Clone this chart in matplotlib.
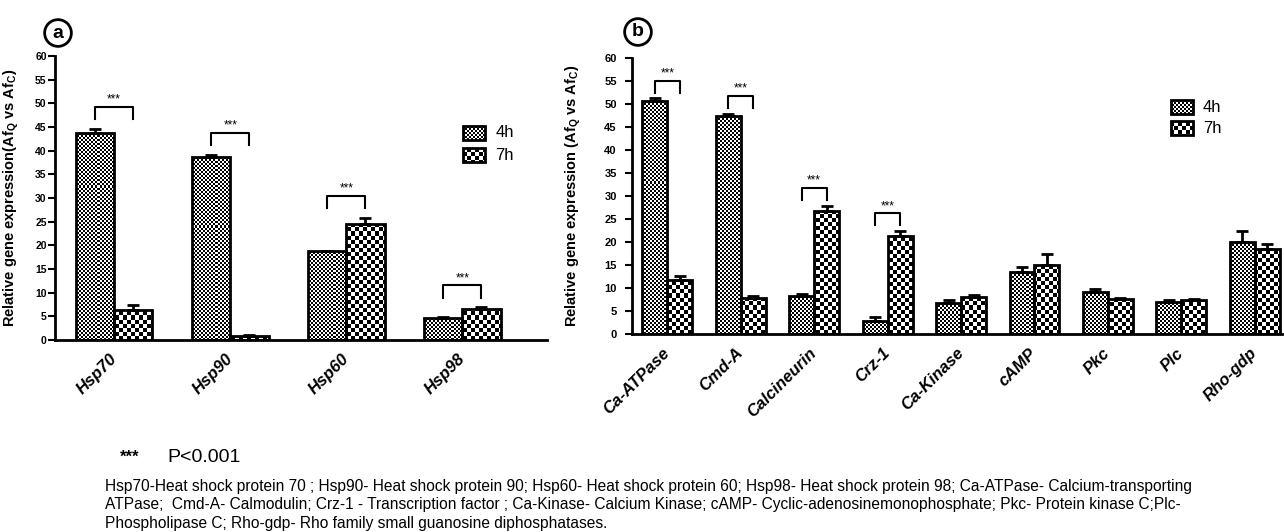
import matplotlib
matplotlib.use('Agg')
import matplotlib.pyplot as plt
from matplotlib.patches import Rectangle
import numpy as np

plt.rcParams['font.family'] = ['Liberation Sans', 'DejaVu Sans']

# panel a: heat shock proteins
genes_a = ['Hsp70', 'Hsp90', 'Hsp60', 'Hsp98']
h4_a = [43.8, 38.7, 18.8, 4.6]
h4_a_err = [0.8, 0.4, 0.1, 0.3]
h7_a = [6.4, 0.9, 24.6, 6.6]
h7_a_err = [1.1, 0.2, 1.2, 0.3]
sig_a = [True, True, True, True]

# panel b: calcium signalling genes
genes_b = ['Ca-ATPase', 'Cmd-A', 'Calcineurin', 'Crz-1', 'Ca-Kinase',
           'cAMP', 'Pkc', 'Plc', 'Rho-gdp']
h4_b = [50.7, 47.5, 8.2, 2.9, 6.8, 13.4, 9.1, 7.0, 19.9]
h4_b_err = [0.5, 0.4, 0.5, 0.7, 0.6, 1.1, 0.7, 0.4, 2.5]
h7_b = [11.8, 7.9, 26.7, 21.4, 8.1, 15.0, 7.6, 7.3, 18.4]
h7_b_err = [0.8, 0.4, 1.2, 1.0, 0.3, 2.5, 0.3, 0.3, 1.1]
sig_b = [True, True, True, True, False, False, False, False, False]

yticks = list(range(0, 61, 5))
series = ['4h', '7h']

W, H = 1284, 532
fig = plt.figure(figsize=(W / 100, H / 100), dpi=100)


def checker_fill(ax, patch, cell):
    # GraphPad-like checkerboard, one image over the axes clipped to the patch
    bb = ax.get_window_extent()
    ny = int(round(bb.height / cell))
    nx = int(round(bb.width / cell))
    board = np.indices((ny, nx)).sum(axis=0) % 2
    x0, x1 = ax.get_xlim()
    y0, y1 = ax.get_ylim()
    im = ax.imshow(board, cmap='gray', vmin=0, vmax=1, extent=(x0, x1, y0, y1),
                   aspect='auto', interpolation='nearest', origin='lower', zorder=2)
    im.set_clip_path(patch)
    return im


def draw_panel(ax, genes, h4, h4e, h7, h7e, sig, xlim, width, capsize, gap, label_pad,
               ylab, tick_size, leg_xy):
    x = np.arange(len(genes))
    ax.set_xlim(*xlim)
    ax.set_ylim(0, 60)
    b4 = ax.bar(x - width / 2, h4, width, facecolor='none', edgecolor='k', lw=2, zorder=3)
    b7 = ax.bar(x + width / 2, h7, width, facecolor='none', edgecolor='k', lw=2, zorder=3)
    for p in b4:
        checker_fill(ax, p, 2)
    for p in b7:
        checker_fill(ax, p, 4)
    ax.errorbar(x - width / 2, h4, yerr=[np.zeros(len(x)), h4e], fmt='none', ecolor='k',
                elinewidth=2, capsize=capsize, capthick=2, zorder=4)
    ax.errorbar(x + width / 2, h7, yerr=[np.zeros(len(x)), h7e], fmt='none', ecolor='k',
                elinewidth=2, capsize=capsize, capthick=2, zorder=4)
    for i, s in enumerate(sig):
        if not s:
            continue
        top = max(h4[i] + h4e[i], h7[i] + h7e[i]) + gap
        ax.plot([x[i] - width / 2, x[i] - width / 2, x[i] + width / 2, x[i] + width / 2],
                [top, top + 2.7, top + 2.7, top], color='k', lw=1.5, zorder=4)
        ax.text(x[i], top + 4.2, '***', ha='center', va='center', fontsize=8.5)
    ax.set_xlim(*xlim)
    ax.set_ylim(0, 60)
    ax.set_yticks(yticks)
    ax.set_xticks(x)
    ax.set_xticklabels(genes, rotation=45, ha='right', va='center', rotation_mode='anchor',
                       fontsize=12, fontweight='bold', fontstyle='italic')
    ax.tick_params(axis='x', length=0, pad=label_pad)
    ax.tick_params(axis='y', length=5, width=1.5, labelsize=tick_size)
    for t in ax.get_yticklabels():
        t.set_fontweight('bold')
    for side in ['top', 'right']:
        ax.spines[side].set_visible(False)
    for side in ['left', 'bottom']:
        ax.spines[side].set_linewidth(2)
    ax.set_ylabel(ylab, fontsize=10.5, fontweight='bold')
    # legend drawn by hand so it carries the same checker fills
    lx, ly, dy = leg_xy
    pw = 22 / ax.get_window_extent().width
    ph = 14 / ax.get_window_extent().height
    for k, (name, cell) in enumerate(zip(series, [2, 4])):
        yc = ly - k * dy
        r = Rectangle((lx, yc - ph / 2), pw, ph, transform=ax.transAxes,
                      facecolor='none', edgecolor='k', lw=2, zorder=5)
        ax.add_patch(r)
        checker_fill(ax, r, cell)
        ax.text(lx + pw + 10 / ax.get_window_extent().width, yc, name,
                transform=ax.transAxes, fontsize=12, va='center', ha='left')


ax_a = fig.add_axes([55 / W, 1 - 340 / H, (547 - 55) / W, (340 - 56) / H])
ax_b = fig.add_axes([632 / W, 1 - 334 / H, (1282 - 632) / W, (334 - 58) / H])

draw_panel(ax_a, genes_a, h4_a, h4_a_err, h7_a, h7_a_err, sig_a, (-0.51, 3.73), 0.33,
           4.3, 2.0, 12, 'Relative gene expression(Af$_\\mathregular{Q}$ vs Af$_\\mathregular{C}$)',
           7.5, (0.83, 0.729, 0.078))
draw_panel(ax_b, genes_b, h4_b, h4_b_err, h7_b, h7_b_err, sig_b, (-0.48, 8.37), 0.34,
           4.5, 1.2, 12, 'Relative gene expression (Af$_\\mathregular{Q}$ vs Af$_\\mathregular{C}$)',
           8, (0.829, 0.822, 0.076))
ax_a.yaxis.set_tick_params(pad=1)
ax_b.yaxis.set_tick_params(pad=6)
ax_a.yaxis.set_label_coords(-0.07, 0.5)
ax_b.yaxis.set_label_coords(-0.075, 0.5)

for lab, (px, py) in zip(['a', 'b'], [(58, 33), (638, 32)]):
    fig.text(px / W, 1 - py / H, lab, ha='center', va='center', fontsize=14, fontweight='bold',
             bbox=dict(boxstyle='circle,pad=0.25', fc='white', ec='k', lw=2))

fig.text(120 / W, 1 - 457 / H, '***', fontsize=12, fontweight='bold', va='center')
fig.text(167 / W, 1 - 457 / H, 'P<0.001', fontsize=14, va='center')

caption = ('Hsp70-Heat shock protein 70 ; Hsp90- Heat shock protein 90; Hsp60- Heat shock protein 60; '
           'Hsp98- Heat shock protein 98; Ca-ATPase- Calcium-transporting\n'
           'ATPase;  Cmd-A- Calmodulin; Crz-1 - Transcription factor ; Ca-Kinase- Calcium Kinase; '
           'cAMP- Cyclic-adenosinemonophosphate; Pkc- Protein kinase C;Plc-\n'
           'Phospholipase C; Rho-gdp- Rho family small guanosine diphosphatases.')
fig.text(105 / W, 1 - 479 / H, caption, fontsize=11.2, va='top', ha='left', linespacing=1.28)

fig.savefig('out.png', dpi=100)
